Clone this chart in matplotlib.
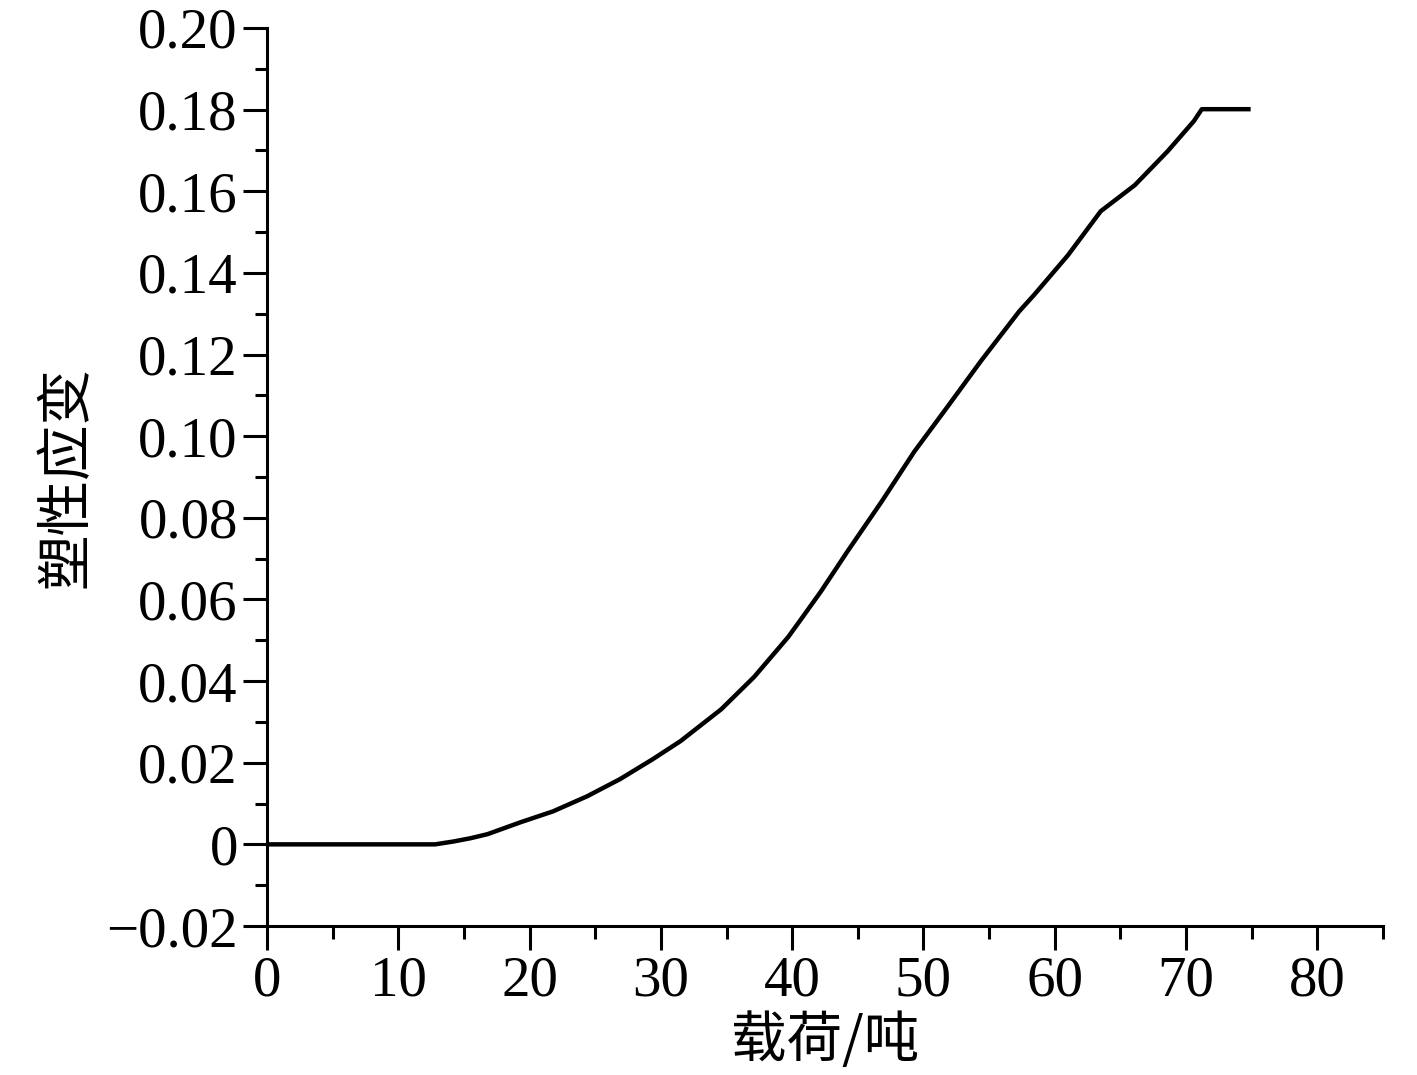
import matplotlib
matplotlib.use("Agg")
import matplotlib.pyplot as plt
from matplotlib.ticker import MultipleLocator, FuncFormatter

load_t = [0, 12.8, 14.2, 15.5, 16.8, 19.3, 21.8, 24.4, 26.9, 29.4, 31.5, 34.6, 37.1,
          39.7, 40.8, 42.2, 44.2, 46.8, 49.3, 51.9, 54.4, 57.3, 58.4, 61.0, 63.5,
          66.1, 68.6, 70.6, 71.2, 74.75]
strain = [0, 0, 0.0007, 0.0015, 0.0025, 0.0054, 0.0081, 0.0118, 0.0160, 0.0209, 0.0253,
          0.0331, 0.0410, 0.0508, 0.0557, 0.0620, 0.0717, 0.0839, 0.0962, 0.1075,
          0.1185, 0.1306, 0.1345, 0.1443, 0.1551, 0.1615, 0.1698, 0.1772, 0.1801,
          0.1801]

xlabel = "载荷/吨"
ylabel = "塑性应变"

plt.rcParams['font.family'] = ['Liberation Serif', 'Noto Sans CJK SC']

fig = plt.figure(figsize=(14.17, 10.75), dpi=100)
ax = fig.add_axes([0.1884, 0.1386, 0.976 - 0.1884, 0.974 - 0.1386])

ax.plot(load_t, strain, color='black', lw=3.2, solid_joinstyle='round')

ax.set_xlim(0, 85)
ax.set_ylim(-0.02, 0.20)
ax.xaxis.set_major_locator(MultipleLocator(10))
ax.xaxis.set_minor_locator(MultipleLocator(5))
ax.yaxis.set_major_locator(MultipleLocator(0.02))
ax.yaxis.set_minor_locator(MultipleLocator(0.01))

def yfmt(v, pos):
    if abs(v) < 1e-9:
        return "0"
    return ("%.2f" % v).replace("-", "\u2212")

ax.yaxis.set_major_formatter(FuncFormatter(yfmt))
ax.xaxis.set_major_formatter(FuncFormatter(lambda v, p: "%d" % round(v)))

for s in ['top', 'right']:
    ax.spines[s].set_visible(False)
for s in ['left', 'bottom']:
    ax.spines[s].set_linewidth(2.2)

ax.tick_params(which='major', direction='out', length=17, width=2.2, labelsize=41, pad=4)
ax.tick_params(which='minor', direction='out', length=9, width=2.2)

ax.set_xlabel(xlabel, fontsize=40, family=['Noto Sans CJK SC'], labelpad=4)
ax.set_ylabel(ylabel, fontsize=40, family=['Noto Sans CJK SC'], labelpad=8)

fig.savefig("out.png", dpi=100, facecolor='white')
